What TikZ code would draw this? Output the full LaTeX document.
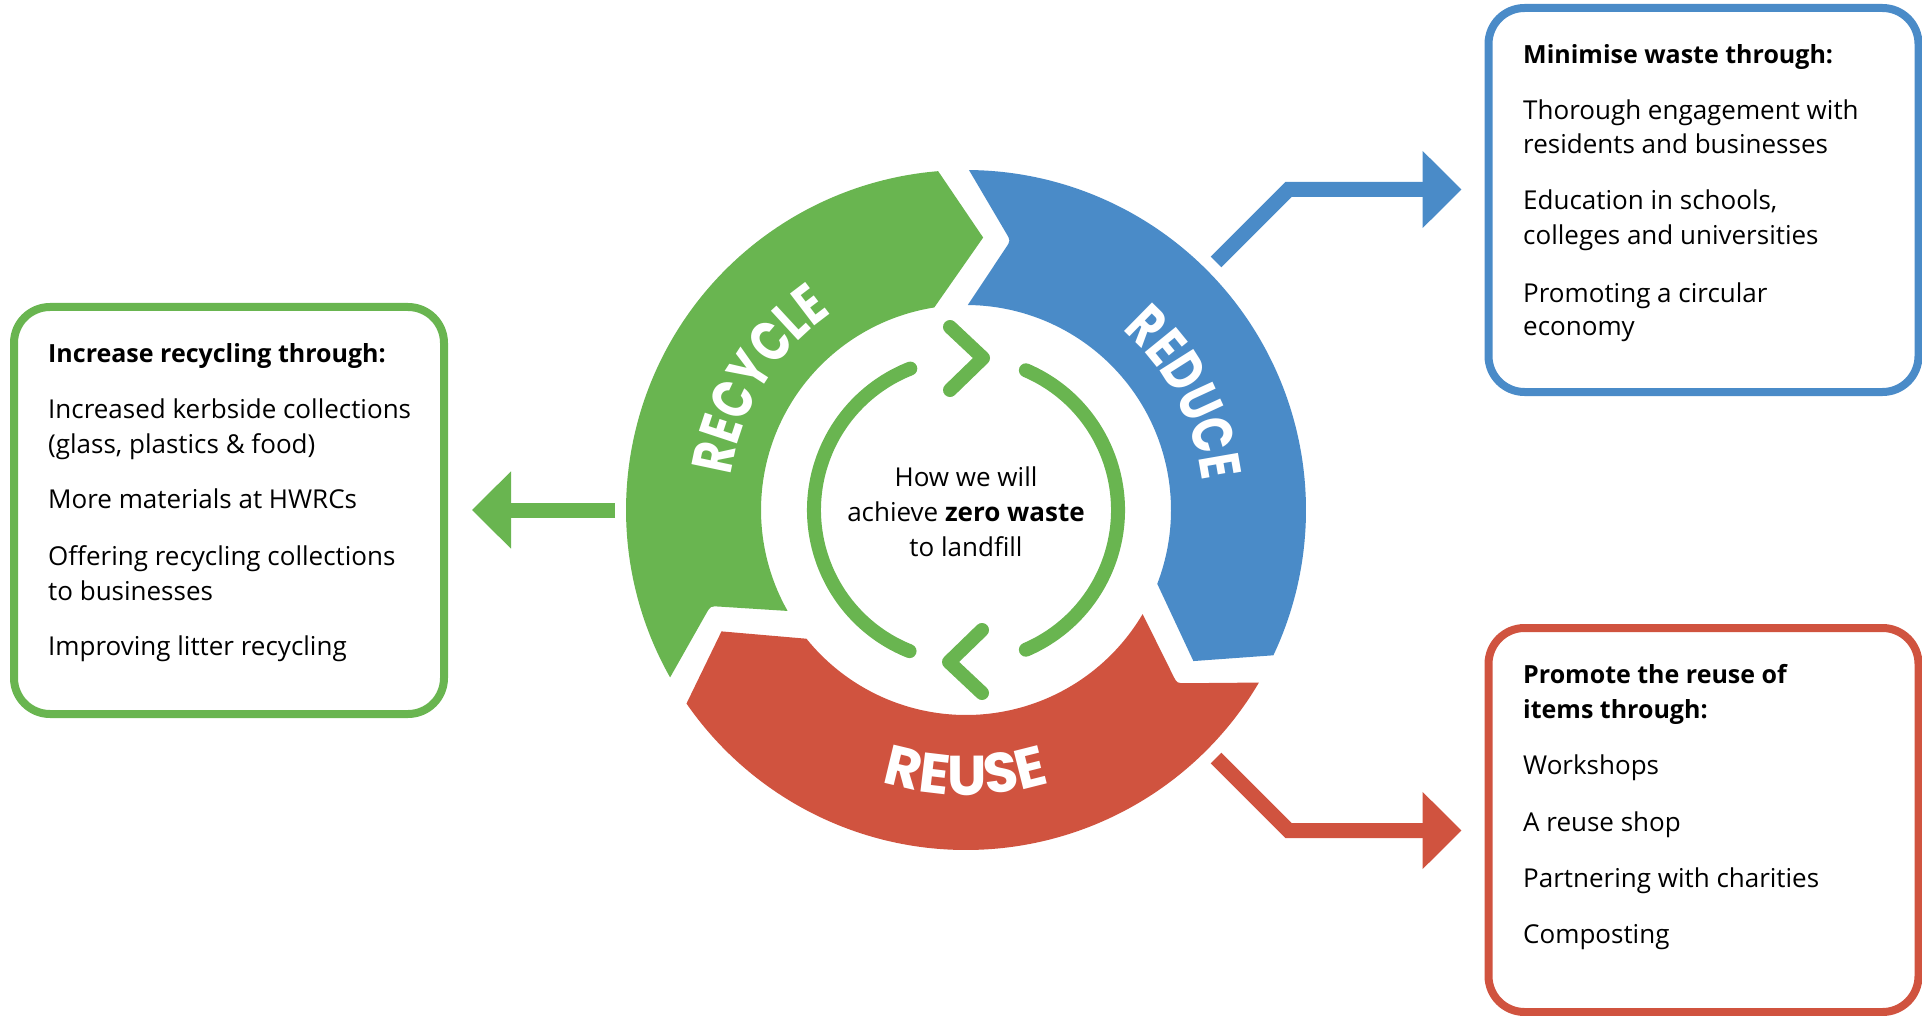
\documentclass[tikz,border=0pt]{standalone}
\usepackage{fontspec}
\setmainfont{Open Sans}
\newfontfamily\ringfamily{Poppins}[FakeStretch=0.78]
\newfontfamily\ringwidefamily{Poppins}
\usetikzlibrary{calc,arrows.meta,decorations.text}

\definecolor{ringgreen}{HTML}{69B550}
\definecolor{ringblue}{HTML}{4A8BC8}
\definecolor{ringred}{HTML}{D0533F}
\newcommand{\ringfont}{\ringfamily\bfseries\fontsize{57}{57}\selectfont}
\newcommand{\ringwidefont}{\ringwidefamily\bfseries\fontsize{56}{56}\selectfont}

\begin{document}
\begin{tikzpicture}[x=1pt,y=-1pt,
    panel/.style={draw=#1, line width=8pt, rounded corners=36pt, minimum width=430pt, minimum height=384pt},
    pointer/.style={line width=15pt, line join=miter, -{Triangle[length=39pt,width=75pt]}},
    cycleline/.style={ringgreen, line width=14pt, line cap=round, line join=round},
    item/.style={anchor=base west, inner sep=0pt, font=\fontsize{26}{30}\selectfont},
    heading/.style={item, font=\bfseries\fontsize{25}{30}\selectfont},
    ringtext/.style={decorate, decoration={text along path, text align=center, text color=white, text={#1}}}]
  \useasboundingbox (0,0) rectangle (1922,1016);
  \coordinate (hub) at (966,510);

  % wheel: three arrow segments
  \foreach \a/\c in {0/ringgreen,120/ringblue,240/ringred}{
    \coordinate (tail-out) at ($(hub)+({150.5+\a}:340)$);
    \coordinate (tail-in) at ($(hub)+({150.5+\a}:205)$);
    \coordinate (notch) at ($(hub)+({159.4+\a}:273)$);
    \coordinate (tip) at ($(hub)+({273.6+\a}:273)$);
    \coordinate (head-in) at ($(hub)+({261.1+\a}:205)$);
    \fill[\c] (tail-out) arc[start angle=150.5+\a, end angle=265.3+\a, radius=340]
      -- (tip) -- (head-in) arc[start angle=261.1+\a, end angle=150.5+\a, radius=205]
      -- ($(notch)!9pt!(tail-in)$) .. controls (notch) .. ($(notch)!9pt!(tail-out)$) -- cycle;
  }
  \path[ringtext={|\ringfont|RECYCLE}] ($(hub)+(177:238)$) arc[start angle=177, end angle=247, radius=238];
  \path[ringtext={|\ringfont|REDUCE}] ($(hub)+(297:238)$) arc[start angle=297, end angle=367, radius=238];
  \path[ringtext={|\ringwidefont|REUSE}] ($(hub)+(125:285)$) arc[start angle=125, end angle=55, radius=285];

  % inner cycle arrows
  \draw[cycleline] ($(hub)+(111.8:152)$) arc[start angle=111.8, end angle=248.5, radius=152];
  \draw[cycleline] ($(hub)+(-66.8:152)$) arc[start angle=-66.8, end angle=66.8, radius=152];
  \draw[cycleline] (950,327) -- (983,358) -- (950,390);
  \draw[cycleline] (982,693) -- (949,662) -- (982,630);
  \node[font=\fontsize{26}{35}\selectfont, align=center] (goal) at ($(hub)+(0,2)$)
    {How we will\\achieve \textbf{zero waste}\\to landfill};

  % boxes
  \node[panel=ringgreen, minimum height=407pt] (recycle-box) at (229,510.5) {};
  \node[panel=ringblue] (reduce-box) at (1703.5,200) {};
  \node[panel=ringred] (reuse-box) at (1703.5,820) {};

  \node[heading] (recycle-head) at (48,362) {Increase recycling through:};
  \foreach \y/\t [count=\i] in {418/Increased kerbside collections, 453/{(glass, plastics \& food)},
      508/More materials at HWRCs, 565/Offering recycling collections, 600/to businesses,
      655/Improving litter recycling}
    \node[item] (recycle-\i) at (48,\y) {\t};

  \node[heading] (reduce-head) at (1523,64) {Minimise waste through:};
  \foreach \y/\t [count=\i] in {120/Thorough engagement with, 154/residents and businesses,
      210/{Education in schools,}, 245/colleges and universities, 302/Promoting a circular, 335/economy}
    \node[item] (reduce-\i) at (1523,\y) {\t};

  \node[heading] (reuse-head) at (1523,683) {Promote the reuse of};
  \node[heading] (reuse-head2) at (1523,718) {items through:};
  \foreach \y/\t [count=\i] in {774/Workshops, 831/A reuse shop, 887/Partnering with charities, 943/Composting}
    \node[item] (reuse-\i) at (1523,\y) {\t};

  % arrows out to the boxes
  \coordinate (recycle-out) at (615,510);
  \coordinate (reduce-out) at (1216,262);
  \coordinate (reduce-bend) at (1288.5,189.5);
  \coordinate (reuse-out) at (1216,758);
  \coordinate (reuse-bend) at (1288.5,830.5);
  \draw[pointer, ringgreen, shorten >=24pt] (recycle-out) -- (recycle-box.east |- recycle-out);
  \draw[pointer, ringblue, shorten >=23pt] (reduce-out) -- (reduce-bend) -- (reduce-bend -| reduce-box.west);
  \draw[pointer, ringred, shorten >=23pt] (reuse-out) -- (reuse-bend) -- (reuse-bend -| reuse-box.west);
\end{tikzpicture}
\end{document}
